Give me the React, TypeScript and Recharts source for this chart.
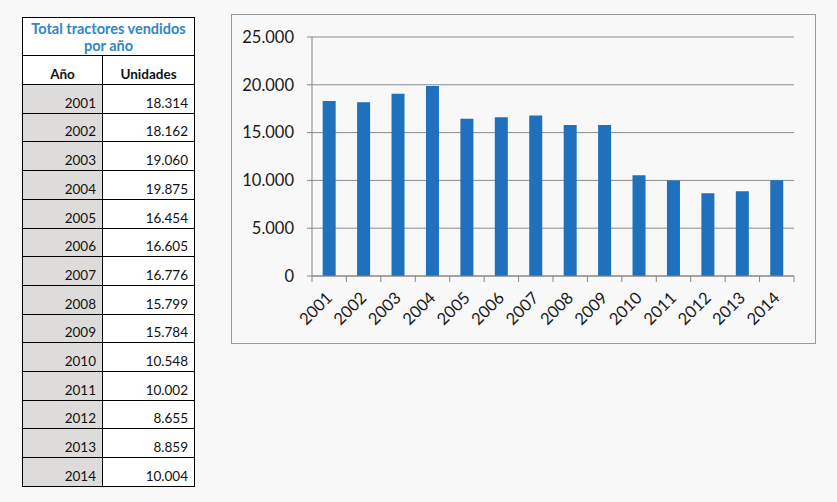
import { BarChart, Bar, XAxis, YAxis, CartesianGrid } from 'recharts'

const years = ['2001', '2002', '2003', '2004', '2005', '2006', '2007', '2008', '2009', '2010', '2011', '2012', '2013', '2014']
const units = [18314, 18162, 19060, 19875, 16454, 16605, 16776, 15799, 15784, 10548, 10002, 8655, 8859, 10004]
const yTicks = [0, 5000, 10000, 15000, 20000, 25000]

const tableTitle = ['Total tractores vendidos', 'por año']
const colHeaders = ['Año', 'Unidades']

const data = years.map((year, i) => ({ year, units: units[i] }))

const FONT = 'Lato, "Open Sans", sans-serif'
const CHART_W = 583
const CHART_H = 328
const MARGIN = { top: 22, right: 21, left: 0, bottom: 0 }
const Y_AXIS_W = 80
const BAND = (CHART_W - MARGIN.left - MARGIN.right - Y_AXIS_W) / years.length

function fmt(n: number) {
  return n.toString().replace(/\B(?=(\d{3})+(?!\d))/g, '.')
}

function YearTick(props: any) {
  const { x, y, payload, index } = props
  const half = BAND / 2
  const last = index === years.length - 1
  const tx = x + 4
  const ty = y + 23
  return (
    <g>
      <line x1={x - half} x2={x - half} y1={y} y2={y + 6} stroke="#868686" />
      {last && <line x1={x + half} x2={x + half} y1={y} y2={y + 6} stroke="#868686" />}
      <text
        x={tx}
        y={ty}
        textAnchor="end"
        fontSize={16.5}
        fill="#1a1a1a"
        fontFamily={FONT}
        transform={`rotate(-45 ${tx} ${ty})`}
      >
        {payload.value}
      </text>
    </g>
  )
}

function Table() {
  const left = 22
  const col1 = 80
  const col2 = 92
  const rowH = 28.7
  const rowTop = (i: number) => Math.round(84 + i * rowH)
  const cell = (extra: any) => ({
    position: 'absolute' as const,
    boxSizing: 'border-box' as const,
    border: '1px solid #000',
    fontFamily: FONT,
    fontSize: 13.5,
    color: '#111',
    ...extra,
  })
  return (
    <>
      <div
        style={cell({
          left,
          top: 17,
          width: col1 + col2 + 1,
          height: 39,
          color: '#2e86cb',
          fontWeight: 700,
          fontSize: 14.5,
          textAlign: 'center',
          lineHeight: '17px',
          paddingTop: 2,
          background: '#fff',
        })}
      >
        {tableTitle[0]}
        <br />
        {tableTitle[1]}
      </div>
      {colHeaders.map((h, i) => (
        <div
          key={h}
          style={cell({
            left: i === 0 ? left : left + col1,
            top: 55,
            width: (i === 0 ? col1 : col2) + 1,
            height: 30,
            fontWeight: 700,
            textAlign: 'center',
            lineHeight: '36px',
            background: '#fff',
          })}
        >
          {h}
        </div>
      ))}
      {years.map((yr, i) => {
        const top = rowTop(i)
        const h = rowTop(i + 1) - top + 1
        return (
          <div key={yr}>
            <div
              style={cell({
                left,
                top,
                width: col1 + 1,
                height: h,
                textAlign: 'right',
                paddingRight: 6,
                lineHeight: `${h * 2 - 24}px`,
                background: '#dedcda',
              })}
            >
              {yr}
            </div>
            <div
              style={cell({
                left: left + col1,
                top,
                width: col2 + 1,
                height: h,
                textAlign: 'right',
                paddingRight: 6,
                lineHeight: `${h * 2 - 24}px`,
                background: '#fff',
              })}
            >
              {fmt(units[i])}
            </div>
          </div>
        )
      })}
    </>
  )
}

export default function App() {
  return (
    <div style={{ position: 'absolute', left: 0, top: 0, width: 837, height: 502, background: '#f8f8f8', overflow: 'hidden' }}>
      <Table />
      <div
        style={{
          position: 'absolute',
          left: 231,
          top: 14,
          width: CHART_W,
          height: CHART_H,
          border: '1px solid #9a9a9a',
          background: '#f8f8f8',
        }}
      >
        <BarChart width={CHART_W} height={CHART_H} data={data} margin={MARGIN} barCategoryGap="31%">
          <CartesianGrid vertical={false} stroke="#8c8c8c" />
          <XAxis
            dataKey="year"
            height={67}
            tickSize={0}
            tickMargin={0}
            axisLine={{ stroke: '#868686' }}
            tick={<YearTick />}
            interval={0}
          />
          <YAxis
            width={Y_AXIS_W}
            domain={[0, 25000]}
            ticks={yTicks}
            tickFormatter={fmt}
            axisLine={{ stroke: '#868686' }}
            tickLine={{ stroke: '#868686' }}
            tickSize={5}
            tickMargin={13}
            tick={{ fontSize: 16.5, fill: '#1a1a1a', fontFamily: FONT }}
          />
          <Bar dataKey="units" fill="#1f70bd" isAnimationActive={false} />
        </BarChart>
      </div>
    </div>
  )
}
